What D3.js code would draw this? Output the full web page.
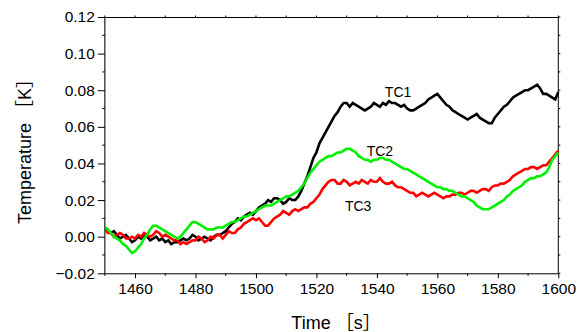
<!DOCTYPE html>
<html>
<head>
<meta charset="utf-8">
<script src="https://cdn.jsdelivr.net/npm/d3@7"></script>
<style>
  html, body { margin: 0; padding: 0; background: #fff; }
  svg text { font-family: "Liberation Sans", Arial, "Noto Sans CJK JP", sans-serif; fill: #000; }
</style>
</head>
<body>
<svg id="chart" width="585" height="332"></svg>
<script>
// time axis (s), one sample every 1 s
const times = d3.range(1450, 1601, 1);

const tc1 = [
  0.004,0.003,0.002,0.003,0.001,-0.001,0.000,0.001,-0.001,-0.003,
  -0.002,0.000,-0.001,0.001,0.000,-0.002,-0.001,0.000,-0.002,-0.001,
  -0.003,-0.002,-0.004,-0.003,-0.003,-0.002,-0.001,-0.002,-0.001,0.001,
  0.000,-0.002,-0.001,0.000,-0.001,-0.002,0.000,0.001,0.001,0.002,
  0.003,0.005,0.007,0.008,0.010,0.009,0.011,0.012,0.013,0.012,
  0.014,0.016,0.017,0.018,0.020,0.019,0.021,0.021,0.020,0.018,
  0.019,0.021,0.020,0.020,0.022,0.025,0.029,0.033,0.038,0.043,
  0.046,0.051,0.054,0.057,0.060,0.063,0.066,0.068,0.071,0.073,
  0.073,0.071,0.073,0.072,0.071,0.070,0.069,0.070,0.071,0.073,
  0.072,0.071,0.073,0.072,0.074,0.073,0.073,0.072,0.071,0.072,
  0.070,0.069,0.069,0.070,0.071,0.072,0.073,0.075,0.076,0.077,
  0.078,0.076,0.074,0.072,0.071,0.069,0.068,0.067,0.066,0.065,
  0.064,0.065,0.066,0.067,0.065,0.064,0.063,0.062,0.062,0.065,
  0.067,0.069,0.071,0.072,0.074,0.076,0.077,0.078,0.079,0.080,
  0.080,0.081,0.082,0.083,0.081,0.078,0.078,0.077,0.076,0.075,
  0.079];

const tc2 = [
  0.005,0.004,0.002,0.000,-0.001,-0.002,-0.004,-0.005,-0.007,-0.009,
  -0.008,-0.006,-0.004,-0.001,0.001,0.004,0.006,0.006,0.005,0.004,
  0.003,0.002,0.001,0.000,-0.001,0.000,0.002,0.004,0.006,0.008,
  0.008,0.007,0.006,0.005,0.004,0.004,0.004,0.005,0.005,0.005,
  0.006,0.007,0.008,0.008,0.009,0.010,0.011,0.011,0.012,0.013,
  0.014,0.015,0.016,0.017,0.017,0.017,0.018,0.019,0.020,0.021,
  0.022,0.022,0.023,0.024,0.025,0.027,0.029,0.032,0.035,0.037,
  0.039,0.041,0.042,0.043,0.044,0.044,0.045,0.046,0.046,0.047,
  0.048,0.048,0.047,0.046,0.044,0.043,0.042,0.042,0.041,0.042,
  0.042,0.043,0.043,0.042,0.042,0.041,0.040,0.039,0.038,0.037,
  0.037,0.036,0.035,0.034,0.033,0.032,0.031,0.030,0.029,0.028,
  0.027,0.027,0.026,0.026,0.025,0.025,0.024,0.023,0.022,0.022,
  0.021,0.020,0.019,0.017,0.016,0.015,0.015,0.015,0.016,0.017,
  0.018,0.019,0.020,0.022,0.023,0.025,0.026,0.027,0.028,0.030,
  0.031,0.032,0.032,0.033,0.033,0.034,0.035,0.038,0.042,0.044,
  0.046];

const tc3 = [
  0.004,0.002,0.002,0.000,0.001,0.002,0.001,-0.001,-0.001,0.000,
  -0.001,0.001,0.000,0.002,0.001,0.000,0.001,0.003,0.002,0.000,
  0.001,0.000,-0.001,-0.002,-0.002,-0.004,-0.003,-0.004,-0.003,-0.002,
  -0.002,0.000,-0.001,-0.003,-0.002,0.000,-0.001,0.001,0.001,-0.001,
  0.001,0.003,0.002,0.002,0.004,0.005,0.007,0.008,0.009,0.010,
  0.009,0.010,0.008,0.006,0.006,0.008,0.010,0.011,0.012,0.014,
  0.013,0.012,0.014,0.015,0.014,0.015,0.016,0.016,0.018,0.019,
  0.021,0.023,0.026,0.028,0.030,0.031,0.031,0.029,0.029,0.031,
  0.030,0.028,0.029,0.030,0.029,0.031,0.030,0.029,0.031,0.030,
  0.030,0.032,0.030,0.029,0.029,0.030,0.028,0.027,0.027,0.026,
  0.025,0.024,0.024,0.022,0.023,0.024,0.023,0.022,0.023,0.024,
  0.023,0.022,0.021,0.022,0.022,0.023,0.023,0.024,0.024,0.023,
  0.024,0.025,0.025,0.024,0.025,0.026,0.026,0.025,0.027,0.028,
  0.028,0.029,0.029,0.030,0.031,0.033,0.034,0.035,0.036,0.037,
  0.037,0.038,0.038,0.037,0.038,0.039,0.039,0.041,0.043,0.045,
  0.047];

const xTickLabels = [1460,1480,1500,1520,1540,1560,1580,1600];
const yTickLabels = [-0.02,0.00,0.02,0.04,0.06,0.08,0.10,0.12];

const seriesNames = ["TC1","TC3","TC2"];
const seriesColors = {TC1:"#000000", TC2:"#00f000", TC3:"#ff0000"};
const seriesData = {TC1: tc1, TC2: tc2, TC3: tc3};
// label anchor points (data coords)
const labelTimes = {TC1: 1547, TC2: 1541, TC3: 1533.8};
const labelValues = {TC1: 0.0763, TC2: 0.044, TC3: 0.014};

const svg = d3.select("#chart");
const L = 104.8, R = 558.3, T = 17, B = 273.3;

const x = d3.scaleLinear().domain([1450,1600]).range([L,R]);
const y = d3.scaleLinear().domain([-0.02,0.12]).range([B,T]);

const fmtY = v => (v < 0 ? "\u2212" : "") + d3.format(".2f")(Math.abs(v));

// frame: top and right
svg.append("line").attr("x1",L).attr("x2",R).attr("y1",T+0.5).attr("y2",T+0.5)
  .attr("stroke","#000").attr("stroke-width",1);
svg.append("line").attr("x1",R).attr("x2",R).attr("y1",T).attr("y2",B)
  .attr("stroke","#000").attr("stroke-width",1);

const xMinor = d3.range(1450, 1601, 10);
const yMinor = d3.range(-0.02, 0.1201, 0.01);

// series
const line = d3.line().x((d,i)=>x(times[i])).y(d=>y(d));
seriesNames.forEach(n => {
  svg.append("path").datum(seriesData[n])
    .attr("d", line)
    .attr("fill","none")
    .attr("stroke", seriesColors[n])
    .attr("stroke-width", 2.6)
    .attr("stroke-linejoin","miter");
});

// bottom axis
const gx = svg.append("g").attr("transform",`translate(0,${B})`)
  .call(d3.axisBottom(x).tickValues(xTickLabels).tickSize(5).tickPadding(5).tickFormat(d3.format("d")));
gx.select(".domain").attr("stroke","#000").attr("d",`M${L},0.5H${R}`);
gx.selectAll("text").attr("font-size","15.5px").attr("font-family",null);
gx.selectAll(".tick line").attr("stroke","#000");
gx.append("g").selectAll("line").data(xMinor.filter(v=>!xTickLabels.includes(v))).join("line")
  .attr("x1",d=>x(d)).attr("x2",d=>x(d)).attr("y1",0).attr("y2",2.5).attr("stroke","#000");

// top minor ticks
svg.append("g").selectAll("line").data(xMinor).join("line")
  .attr("x1",d=>x(d)).attr("x2",d=>x(d)).attr("y1",T).attr("y2",T-1.5).attr("stroke","#000");

// right minor ticks
svg.append("g").selectAll("line").data(yMinor).join("line")
  .attr("x1",R).attr("x2",R+2).attr("y1",d=>y(d)).attr("y2",d=>y(d)).attr("stroke","#000");

// left axis
const gy = svg.append("g").attr("transform",`translate(${L},0)`)
  .call(d3.axisLeft(y).tickValues(yTickLabels).tickSize(7).tickPadding(3).tickFormat(fmtY));
gy.select(".domain").attr("stroke","#555").attr("stroke-width",1.6).attr("d",`M0,${T}V${B}`);
gy.selectAll("text").attr("font-size","15.5px").attr("font-family",null);
gy.selectAll(".tick line").attr("stroke","#000");
gy.append("g").selectAll("line").data(yMinor.filter((v,i)=>i%2===1)).join("line")
  .attr("x1",0).attr("x2",-2.5).attr("y1",d=>y(d)).attr("y2",d=>y(d)).attr("stroke","#000");

// axis titles
svg.append("text").attr("x",336).attr("y",329).attr("text-anchor","middle")
  .attr("font-size","18px").text("Time \uFF3Bs\uFF3D");
svg.append("text").attr("transform",`translate(31,147) rotate(-90)`).attr("text-anchor","middle")
  .attr("font-size","18px").text("Temperature \uFF3BK\uFF3D");

// series labels
seriesNames.forEach(n => {
  svg.append("text").attr("x", x(labelTimes[n])).attr("y", y(labelValues[n]))
    .attr("font-size","14px").attr("text-anchor","middle").text(n);
});
</script>
</body>
</html>
